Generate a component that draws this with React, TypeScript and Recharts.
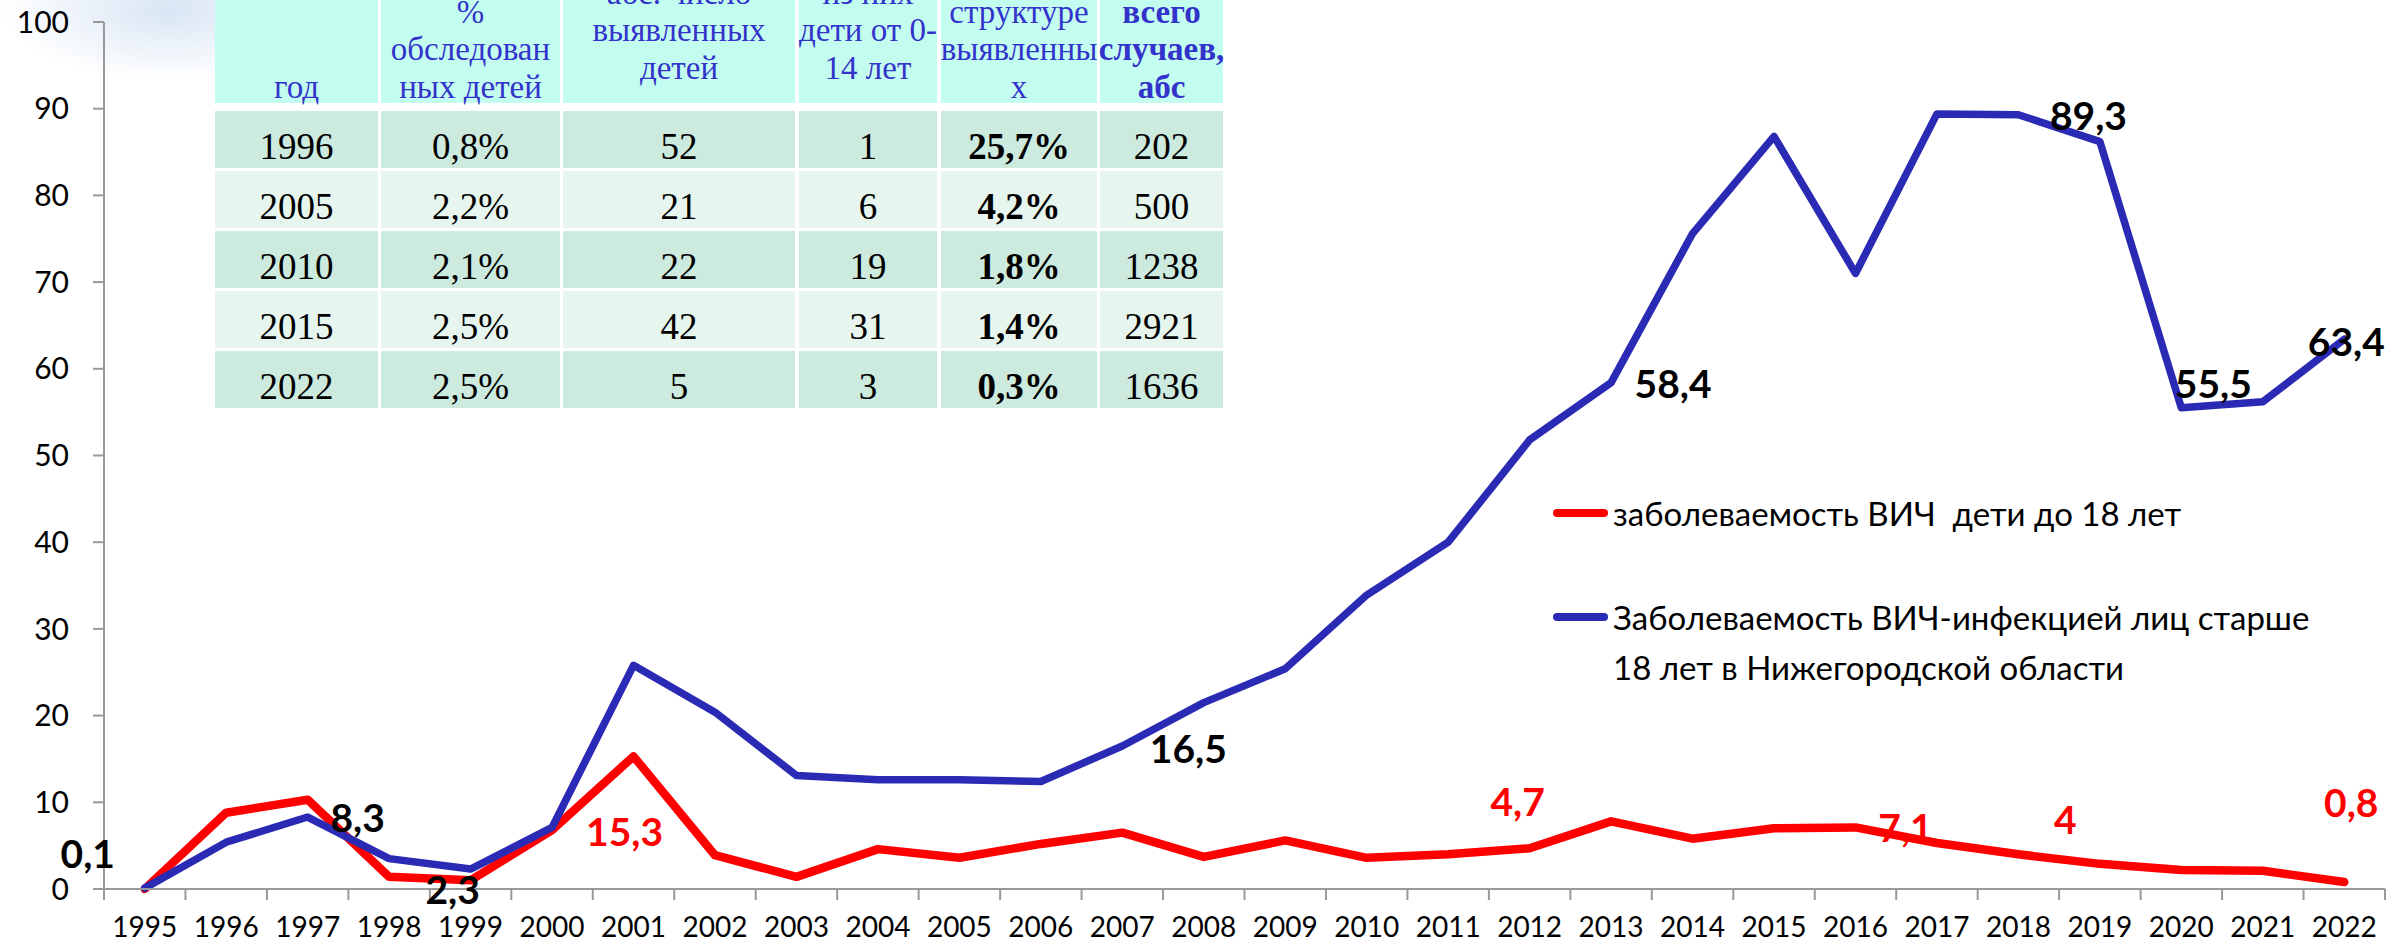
import React from 'react';
import { LineChart, Line, XAxis, YAxis, Legend, LabelList } from 'recharts';

// ---------- chart data ----------
const years = ['1995', '1996', '1997', '1998', '1999', '2000', '2001', '2002', '2003', '2004', '2005', '2006', '2007', '2008', '2009', '2010', '2011', '2012', '2013', '2014', '2015', '2016', '2017', '2018', '2019', '2020', '2021', '2022'];
const childRates = [0, 8.8, 10.3, 1.4, 1.0, 6.8, 15.3, 3.9, 1.4, 4.6, 3.6, 5.2, 6.5, 3.7, 5.6, 3.6, 4.0, 4.7, 7.8, 5.8, 7.0, 7.1, 5.3, 4, 2.9, 2.2, 2.1, 0.8];
const adultRates = [0.1, 5.4, 8.3, 3.5, 2.3, 7.1, 25.8, 20.4, 13.1, 12.6, 12.6, 12.4, 16.5, 21.5, 25.4, 33.9, 40.0, 51.8, 58.4, 75.6, 86.8, 71.0, 89.4, 89.3, 86.2, 55.5, 56.2, 63.4];
const yTicks = [0, 10, 20, 30, 40, 50, 60, 70, 80, 90, 100];

const childName = 'заболеваемость ВИЧ  дети до 18 лет';
const adultName = 'Заболеваемость ВИЧ-инфекцией лиц старше\n18 лет в Нижегородской области';

// ---------- table data ----------
const tableHeaderLines = [
  ['год'],
  ['%', 'обследован', 'ных детей'],
  ['абс. число', 'выявленных', 'детей'],
  ['из них', 'дети от 0-', '14 лет'],
  ['структуре', 'выявленны', 'х'],
  ['всего', 'случаев,', 'абс'],
];
const tableYears = ['1996', '2005', '2010', '2015', '2022'];
const tableShareExamined = ['0,8%', '2,2%', '2,1%', '2,5%', '2,5%'];
const tableDetected = ['52', '21', '22', '42', '5'];
const tableAged0to14 = ['1', '6', '19', '31', '3'];
const tableShareInStructure = ['25,7%', '4,2%', '1,8%', '1,4%', '0,3%'];
const tableTotalCases = ['202', '500', '1238', '2921', '1636'];

// ---------- styling / layout config ----------
const RED = '#ff0000';
const BLUE = '#2a2ab4';
const AXIS = '#999999';
const FONT = 'Lato, "Open Sans", sans-serif';

const adultLabelOffsets: Record<string, [number, number]> = {
  '1995': [-57, -35],
  '1997': [50, 0],
  '1999': [-18, 20],
  '2007': [66, 2],
  '2013': [62, 0],
  '2018': [70, 0],
  '2020': [32, -25],
  '2022': [2, 2],
};
const childLabelOffsets: Record<string, [number, number]> = {
  '2001': [-9, 75],
  '2012': [-12, -47],
  '2016': [50, 0],
  '2018': [47, -35],
  '2022': [7, -80],
};

const colX = [215, 381, 563, 799, 941, 1100];
const colW = [163, 179, 232, 138, 156, 123];
const headerBottomOffset = [-3, -3, 16, 16, -3, -3];

const data = years.map((y, i) => ({ year: y, child: childRates[i], adult: adultRates[i] }));

const fmt = (v: number) => String(v).replace('.', ',');

const makeLabel = (offsets: Record<string, [number, number]>, color: string) => (props: any) => {
  const { x, y, value, index } = props;
  const yr = years[index];
  const off = offsets[yr];
  if (!off || x == null || y == null) return null;
  return (
    <text
      x={Number(x) + off[0]}
      y={Number(y) + off[1]}
      textAnchor="middle"
      dominantBaseline="central"
      fill={color}
      fontSize={39}
      fontWeight={700}
      fontFamily={FONT}
    >
      {fmt(Number(value))}
    </text>
  );
};

const XTick = (props: any) => {
  const { x, y, payload, index, visibleTicksCount, width } = props;
  const half = payload && typeof payload.offset === 'number' && payload.offset > 0
    ? payload.offset
    : width / visibleTicksCount / 2;
  const axisY = y;
  const last = index === visibleTicksCount - 1;
  return (
    <g>
      <line x1={x - half} x2={x - half} y1={axisY} y2={axisY + 11} stroke={AXIS} strokeWidth={2} />
      {last && <line x1={x + half} x2={x + half} y1={axisY} y2={axisY + 11} stroke={AXIS} strokeWidth={2} />}
      <text x={x} y={axisY + 48} textAnchor="middle" fill="#000" fontSize={28} fontFamily={FONT}>
        {payload.value}
      </text>
    </g>
  );
};

const renderLegend = (props: any) => {
  const payload: any[] = props.payload || [];
  const red = payload.find((p) => p.dataKey === 'child');
  const blue = payload.find((p) => p.dataKey === 'adult');
  const item = (p: any, top: number) =>
    p ? (
      <div style={{ position: 'absolute', left: 0, top, display: 'flex', alignItems: 'flex-start' }}>
        <span
          style={{
            display: 'inline-block',
            width: 55,
            height: 8,
            borderRadius: 4,
            background: p.color,
            marginTop: 21,
          }}
        />
        <span
          style={{
            marginLeft: 5,
            fontFamily: FONT,
            fontSize: 33,
            lineHeight: '50px',
            color: '#000',
            whiteSpace: 'pre',
          }}
        >
          {p.value}
        </span>
      </div>
    ) : null;
  return (
    <div style={{ position: 'relative', width: 850, height: 220 }}>
      {item(red, 8)}
      {item(blue, 112)}
    </div>
  );
};

const Table = () => {
  const rows = tableYears.map((y, i) => [
    tableYears[i],
    tableShareExamined[i],
    tableDetected[i],
    tableAged0to14[i],
    tableShareInStructure[i],
    tableTotalCases[i],
  ]);
  return (
    <div style={{ position: 'absolute', left: 0, top: 0, width: 2405, height: 943, pointerEvents: 'none' }}>
      {tableHeaderLines.map((lines, c) => (
        <div
          key={'h' + c}
          style={{
            position: 'absolute',
            left: colX[c],
            top: 0,
            width: colW[c],
            height: 103,
            background: '#c3fdef',
          }}
        >
          <div
            style={{
              position: 'absolute',
              left: -10,
              right: -10,
              bottom: headerBottomOffset[c],
              textAlign: 'center',
              fontFamily: '"Liberation Serif", "Times New Roman", serif',
              fontSize: 33,
              lineHeight: '37.5px',
              color: '#3333cc',
              fontWeight: c === 5 ? 700 : 400,
              whiteSpace: 'nowrap',
            }}
          >
            {lines.map((l, k) => (
              <div key={k}>{l}</div>
            ))}
          </div>
        </div>
      ))}
      {rows.map((row, r) =>
        row.map((cell, c) => (
          <div
            key={r + '-' + c}
            style={{
              position: 'absolute',
              left: colX[c],
              top: 111 + r * 60,
              width: colW[c],
              height: 57,
              background: r % 2 === 0 ? '#cceade' : '#e6f5ee',
              display: 'flex',
              alignItems: 'center',
              justifyContent: 'center',
              paddingTop: 14,
              boxSizing: 'border-box',
              fontFamily: '"Liberation Serif", "Times New Roman", serif',
              fontSize: 37,
              color: '#000',
              fontWeight: c === 4 ? 700 : 400,
              whiteSpace: 'nowrap',
            }}
          >
            {cell}
          </div>
        ))
      )}
    </div>
  );
};

export default function App() {
  return (
    <div
      style={{
        position: 'absolute',
        left: 0,
        top: 0,
        width: 2405,
        height: 943,
        overflow: 'hidden',
        background: '#ffffff',
      }}
    >
      <div
        style={{
          position: 'absolute',
          left: 0,
          top: 0,
          width: 420,
          height: 160,
          background:
            'radial-gradient(ellipse 170px 70px at 170px 10px, rgba(185,208,235,0.55), rgba(255,255,255,0))',
        }}
      />
      <div style={{ position: 'absolute', left: 0, top: 0 }}>
        <LineChart width={2405} height={943} data={data} margin={{ top: 22, right: 20, bottom: 0, left: 0 }}>
          <XAxis
            dataKey="year"
            scale="band"
            interval={0}
            height={54}
            tickLine={false}
            tickSize={0}
            tickMargin={0}
            axisLine={{ stroke: AXIS, strokeWidth: 2 }}
            tick={<XTick />}
          />
          <YAxis
            domain={[0, 100]}
            ticks={yTicks}
            interval={0}
            width={104}
            tickSize={11}
            tickMargin={24}
            axisLine={{ stroke: AXIS, strokeWidth: 2 }}
            tickLine={{ stroke: AXIS, strokeWidth: 2 }}
            tick={{ fill: '#000', fontSize: 30, fontFamily: FONT }}
          />
          <Legend
            layout="horizontal"
            verticalAlign="middle"
            align="center"
            content={renderLegend}
            wrapperStyle={{ left: 1553, top: 480, width: 850, height: 220 }}
          />
          <Line
            type="linear"
            dataKey="child"
            name={childName}
            stroke={RED}
            strokeWidth={8.5}
            strokeLinecap="round"
            strokeLinejoin="round"
            dot={false}
            activeDot={false}
            isAnimationActive={false}
          >
            <LabelList dataKey="child" content={makeLabel(childLabelOffsets, RED)} />
          </Line>
          <Line
            type="linear"
            dataKey="adult"
            name={adultName}
            stroke={BLUE}
            strokeWidth={7.5}
            strokeLinecap="round"
            strokeLinejoin="round"
            dot={false}
            activeDot={false}
            isAnimationActive={false}
          >
            <LabelList dataKey="adult" content={makeLabel(adultLabelOffsets, '#000')} />
          </Line>
        </LineChart>
      </div>
      <Table />
    </div>
  );
}
